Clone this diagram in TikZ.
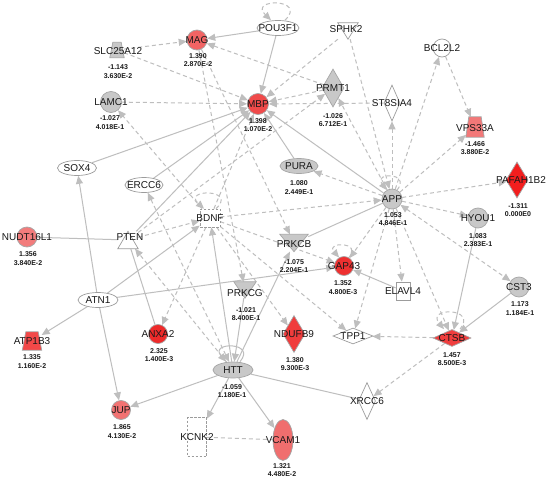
\documentclass[tikz,border=0pt]{standalone}
\usepackage{fontspec}
\setmainfont{Liberation Sans}
\usetikzlibrary{shapes.geometric,arrows.meta}
\definecolor{eg}{HTML}{BEBEBE}
\definecolor{gfill}{HTML}{C8C8C8}
\definecolor{gline}{HTML}{A6A6A6}
\definecolor{wline}{HTML}{9C9C9C}
\definecolor{cmag}{HTML}{F26464}
\definecolor{cmbp}{HTML}{F04A4A}
\definecolor{cnudt}{HTML}{F27C7C}
\definecolor{cjup}{HTML}{F27272}
\definecolor{cvcam}{HTML}{F06E6E}
\definecolor{cvps}{HTML}{F27878}
\definecolor{catp}{HTML}{F24848}
\definecolor{canx}{HTML}{EE2A2A}
\definecolor{cgap}{HTML}{EE3030}
\definecolor{cnduf}{HTML}{F03C3C}
\definecolor{cctsb}{HTML}{F03E3E}
\definecolor{cpaf}{HTML}{F21E1E}
\pgfdeclarelayer{edgelayer}
\pgfsetlayers{edgelayer,main}
\tikzset{
 lab/.style={font=\fontsize{10}{12}\selectfont, text=black!90, inner sep=0pt},
 val/.style={font=\bfseries\fontsize{7}{8.4}\selectfont, align=center, inner sep=0pt, text=black!90},
 nd/.style={draw=gline, line width=0.7pt, inner sep=0pt},
 grayn/.style={nd, fill=gfill},
 whiten/.style={nd, draw=wline, fill=white},
 circ/.style={circle, minimum size=#1},
 ell/.style 2 args={ellipse, minimum width=#1, minimum height=#2},
 dia/.style 2 args={diamond, minimum width=#1, minimum height=#2},
 box/.style 2 args={rectangle, minimum width=#1, minimum height=#2, inner sep=0pt},
 dbord/.style={dash pattern=on 2.5pt off 1.5pt},
 con/.style={draw=eg, line width=1pt},
 dsh/.style={con, dash pattern=on 4pt off 3pt},
 tip/.style={-{Triangle[length=8pt,width=7pt]}},
 tips/.style={{Triangle[length=8pt,width=7pt]}-{Triangle[length=8pt,width=7pt]}},
}
\begin{document}
\begin{tikzpicture}[x=1pt,y=-1pt]
\useasboundingbox (0,0) rectangle (550,482);
% ---------- circles
\node[nd, fill=cmag, circ=20pt, label={[lab]center:MAG}] (mag) at (197,40) {};
\node[nd, fill=cmbp, circ=21pt, label={[lab]center:MBP}] (mbp) at (258,104) {};
\node[grayn, circ=21pt, label={[lab]center:LAMC1}] (lamc) at (111,102) {};
\node[whiten, circ=18pt, label={[lab]center:BCL2L2}] (bcl) at (442,48) {};
\node[grayn, circ=20pt, label={[lab]center:APP}] (app) at (392,199) {};
\node[grayn, circ=20pt, label={[lab]center:HYOU1}] (hyou) at (478,218) {};
\node[grayn, circ=20pt, label={[lab]center:CST3}] (cst) at (519,287) {};
\node[nd, fill=cnudt, circ=20pt, label={[lab]center:NUDT16L1}] (nudt) at (27,237) {};
\node[nd, fill=cgap, circ=19pt, label={[lab]center:GAP43}] (gap) at (344,266) {};
\node[nd, fill=canx, circ=19pt, label={[lab]center:ANXA2}] (anx) at (158,334) {};
\node[nd, fill=cjup, circ=19pt, label={[lab]center:JUP}] (jup) at (121,410) {};
% ---------- ellipses
\node[whiten, ell={42pt}{15pt}, label={[lab]center:POU3F1}] (pou) at (278,28) {};
\node[whiten, ell={39pt}{15pt}, label={[lab]center:SOX4}] (sox) at (77,168) {};
\node[whiten, ell={38pt}{15pt}, label={[lab]center:ERCC6}] (ercc) at (144,185) {};
\node[whiten, ell={40pt}{15pt}, label={[lab]center:ATN1}] (atn) at (98,300) {};
\node[grayn, ell={38pt}{15pt}, label={[lab]center:PURA}] (pura) at (299,166) {};
\node[grayn, ell={40pt}{16pt}, label={[lab]center:HTT}] (htt) at (233,370) {};
\node[nd, fill=cvcam, ell={20pt}{41pt}, label={[lab]center:VCAM1}] (vcam) at (283,440) {};
% ---------- diamonds
\node[grayn, dia={22pt}{38pt}, label={[lab]center:PRMT1}] (prmt) at (333,88) {};
\node[whiten, dia={16pt}{36pt}, label={[lab]center:ST8SIA4}] (st8) at (392,103) {};
\node[nd, fill=cnduf, dia={22pt}{37pt}, label={[lab]center:NDUFB9}] (nduf) at (294,334) {};
\node[nd, fill=cpaf, dia={22pt}{36pt}, label={[lab,xshift=4pt]center:PAFAH1B2}] (paf) at (517,180) {};
\node[whiten, dia={17pt}{37pt}, label={[lab]center:XRCC6}] (xrcc) at (367,401) {};
\node[whiten, dia={40pt}{16pt}, label={[lab]center:TPP1}] (tpp) at (353,336) {};
\node[nd, fill=cctsb, dia={38pt}{17pt}, label={[lab]center:CTSB}] (ctsb) at (452,338) {};
% ---------- boxes
\node[whiten, dbord, box={20pt}{18pt}, label={[lab]center:BDNF}] (bdnf) at (210,218) {};
\node[whiten, box={14pt}{18pt}, label={[lab]center:ELAVL4}] (elav) at (403,291) {};
\node[whiten, dbord, box={19pt}{39pt}, label={[lab]center:KCNK2}] (kcnk) at (197,437) {};
% ---------- triangles and trapezoids
\node[box={20pt}{16pt}] (sphk) at (348,31) {};
\node[box={28pt}{17pt}] (prkcb) at (294,243) {};
\node[box={22pt}{16pt}] (prkcg) at (245,290) {};
\node[box={20pt}{17pt}] (pten) at (128,240) {};
\node[box={14pt}{15pt}] (slc) at (117,50) {};
\node[box={19pt}{18pt}] (atp) at (32,341) {};
\node[box={18pt}{20pt}] (vps) at (475,127) {};
\filldraw[whiten] (sphk.north west) -- (sphk.north east) -- (sphk.south) -- cycle;
\filldraw[grayn] (prkcb.north west) -- (prkcb.north east) -- (prkcb.south) -- cycle;
\filldraw[grayn] (prkcg.north west) -- (prkcg.north east) -- (prkcg.south) -- cycle;
\filldraw[whiten] (pten.south west) -- (pten.south east) -- (pten.north) -- cycle;
\filldraw[grayn] ([xshift=3pt]slc.north west) -- ([xshift=-3pt]slc.north east) -- (slc.south east) -- (slc.south west) -- cycle;
\filldraw[nd, fill=catp] ([xshift=3.5pt]atp.north west) -- ([xshift=-3.5pt]atp.north east) -- (atp.south east) -- (atp.south west) -- cycle;
\filldraw[nd, fill=cvps] ([xshift=3pt]vps.north west) -- ([xshift=-3pt]vps.north east) -- (vps.south east) -- (vps.south west) -- cycle;
\node[lab] (lsphk) at (346,29) {SPHK2};
\node[lab] (lprkcb) at (294,244) {PRKCB};
\node[lab] (lprkcg) at (245,293) {PRKCG};
\node[lab] (lpten) at (130,237) {PTEN};
\node[lab] (lslc) at (118,51) {SLC25A12};
\node[lab] (latp) at (32,341) {ATP1B3};
\node[lab] (lvps) at (475,128) {VPS33A};
% ---------- values
\node[val] (vmag) at (198,60) {1.390\\2.870E-2};
\node[val] (vslc) at (118,71.5) {-1.143\\3.630E-2};
\node[val] (vlamc) at (110,122.5) {-1.027\\4.018E-1};
\node[val] (vmbp) at (258,125) {1.398\\1.070E-2};
\node[val] (vprmt) at (333,120) {-1.026\\6.712E-1};
\node[val] (vvps) at (475,148) {-1.466\\3.880E-2};
\node[val] (vpura) at (299,187.5) {1.080\\2.449E-1};
\node[val] (vapp) at (393,219) {1.053\\4.846E-1};
\node[val] (vpaf) at (518,210) {-1.311\\0.000E0};
\node[val] (vhyou) at (478,240) {1.083\\2.383E-1};
\node[val] (vnudt) at (28,258.5) {1.356\\3.840E-2};
\node[val] (vprkcb) at (294,266) {-1.075\\2.204E-1};
\node[val] (vgap) at (343,287.5) {1.352\\4.800E-3};
\node[val] (vprkcg) at (246,314) {-1.021\\8.400E-1};
\node[val] (vcst) at (520,308.5) {1.173\\1.184E-1};
\node[val] (vatp) at (32,361.5) {1.335\\1.160E-2};
\node[val] (vanx) at (159,355) {2.325\\1.400E-3};
\node[val] (vnduf) at (295,364) {1.380\\9.300E-3};
\node[val] (vctsb) at (452,359) {1.457\\8.500E-3};
\node[val] (vhtt) at (232,391) {-1.059\\1.180E-1};
\node[val] (vjup) at (122,431.5) {1.865\\4.130E-2};
\node[val] (vvcam) at (282,470) {1.321\\4.480E-2};
% ---------- connectors
\begin{pgfonlayer}{edgelayer}
\fill[white] (0,0) rectangle (550,482);
% solid
\draw[con,tip] (pou) -- (mag);
\draw[con,tip] (pou) -- (mbp);
\draw[con,tip] (app) -- (mbp);
\draw[con,tip] (pura) -- (mbp);
\draw[con,tip] (sox) -- (mbp);
\draw[con,tip] (ercc) -- (mbp);
\draw[con,tip] (pten) -- (mbp);
\draw[con] (app) -- (prkcb);
\draw[con,tip] (atn) -- (bdnf);
\draw[con] (nudt) -- (pten);
\draw[con] (pten) -- (anx);
\draw[con,tip] (atn) -- (gap);
\draw[con,tip] (elav) -- (gap);
\draw[con,tip] (htt) -- (bdnf);
\draw[con,tip] (prkcg) -- (htt);
\draw[con,tip] (htt) -- (prkcb);
\draw[con,tip] (htt) -- (jup);
\draw[con,tip] (atn) -- (jup);
\draw[con,tip] (atn) -- (sox);
\draw[con,tip] (atn) -- (atp);
\draw[con] (htt) -- (xrcc);
\draw[con,tip] (htt) -- (kcnk);
\draw[con,tip] (htt) -- (vcam);
\draw[con,tip] (cst) -- (ctsb);
\draw[con,tip] (hyou) -- (ctsb);
% dashed
\draw[dsh,tip] (slc) -- (mag);
\draw[dsh,tip] (slc) -- (mbp);
\draw[dsh,tip] (lamc) -- (mbp);
\draw[dsh,tip] (sphk) -- (mbp);
\draw[dsh,tip] (sphk) -- (app);
\draw[dsh,tip] (prmt) -- (mbp);
\draw[dsh,tip] (prmt) -- (mag);
\draw[dsh,tip] (st8) -- (mbp);
\draw[dsh,tip] (app) -- (prmt);
\draw[dsh,tip] (app) -- (st8);
\draw[dsh,tip] (app) -- (pura);
\draw[dsh,tip] (app) -- (bcl);
\draw[dsh,tip] (bcl) -- (vps);
\draw[dsh,tip] (app) -- (vps);
\draw[dsh,tip] (app) -- (paf);
\draw[dsh,tip] (app) -- (hyou);
\draw[dsh,tips] (app) -- (cst);
\draw[dsh,tip] (app) -- (ctsb);
\draw[dsh,tip] (app) -- (elav);
\draw[dsh,tip] (app) -- (gap);
\draw[dsh,tip] (app) -- (tpp);
\draw[dsh,tip] (bdnf) -- (tpp);
\draw[dsh,tip] (bdnf) -- (lamc);
\draw[dsh,tip] (pten) -- (bdnf);
\draw[dsh,tip] (bdnf) -- (anx);
\draw[dsh,tip] (htt) -- (pten);
\draw[dsh,tips] (ercc) -- (htt);
\draw[dsh,tip] (bdnf) -- (mbp);
\draw[dsh,tip] (bdnf) -- (app);
\draw[dsh,tip] (mag) -- (prkcb);
\draw[dsh,tip] (mag) -- (prkcg);
\draw[dsh,tip] (bdnf) -- (gap);
\draw[dsh,tip] (bdnf) -- (nduf);
\draw[dsh,tip] (ctsb) -- (tpp);
\draw[dsh,tip] (ctsb) -- (xrcc);
\draw[dsh] (kcnk) -- (vcam);
\draw[dsh,tip] (pten) -- (prmt);
% self loops
\draw[dsh,tip] ([xshift=7pt]pou.north) .. controls ([xshift=30pt,yshift=22pt]pou.north) and ([xshift=-30pt,yshift=22pt]pou.north) .. ([xshift=-7pt]pou.north);
\draw[dsh,tip] ([xshift=6pt]bdnf.north) .. controls ([xshift=28pt,yshift=20pt]bdnf.north) and ([xshift=-28pt,yshift=20pt]bdnf.north) .. ([xshift=-6pt]bdnf.north);
\draw[dsh,tip] (app.60) .. controls ([xshift=14pt,yshift=18pt]app.60) and ([xshift=-14pt,yshift=18pt]app.120) .. (app.120);
\draw[dsh,tip] (gap.60) .. controls ([xshift=14pt,yshift=16pt]gap.60) and ([xshift=-14pt,yshift=16pt]gap.120) .. (gap.120);
\draw[dsh,tip] ([xshift=8pt]ctsb.north) .. controls ([xshift=26pt,yshift=22pt]ctsb.north) and ([xshift=-26pt,yshift=22pt]ctsb.north) .. ([xshift=-8pt]ctsb.north);
\draw[con,tip] ([xshift=7pt]htt.north) .. controls ([xshift=24pt,yshift=20pt]htt.north) and ([xshift=-24pt,yshift=20pt]htt.north) .. ([xshift=-7pt]htt.north);
\end{pgfonlayer}
\end{tikzpicture}
\end{document}
